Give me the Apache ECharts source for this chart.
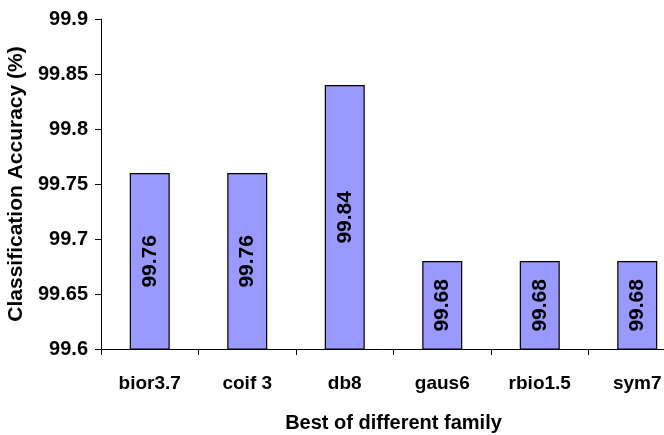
<!DOCTYPE html>
<html>
<head>
<meta charset="utf-8">
<script src="https://cdn.jsdelivr.net/npm/echarts@6/dist/echarts.min.js"></script>
<style>html,body{margin:0;padding:0;background:#fff;}#c{width:664px;height:435px;}</style>
</head>
<body>
<div id="c"></div>
<script>
const categories = ['bior3.7', 'coif 3', 'db8', 'gaus6', 'rbio1.5', 'sym7'];
const accuracy = [99.76, 99.76, 99.84, 99.68, 99.68, 99.68];
const yMin = 99.6, yMax = 99.9, yStep = 0.05;

const FONT = '"Liberation Sans", Arial, sans-serif';
const chart = echarts.init(document.getElementById('c'), null, {renderer: 'canvas'});
chart.setOption({
  backgroundColor: '#ffffff',
  animation: false,
  grid: {left: 101, top: 19, right: -22, height: 330, containLabel: false, outerBoundsMode: 'none'},
  xAxis: {
    type: 'category',
    data: categories,
    name: 'Best of different family',
    nameLocation: 'middle',
    nameGap: 64,
    nameTextStyle: {fontFamily: FONT, fontWeight: 'bold', fontSize: 20, color: '#000'},
    axisLine: {lineStyle: {color: '#000', width: 1}},
    axisTick: {show: true, alignWithLabel: false, length: 6, lineStyle: {color: '#000'}},
    axisLabel: {fontFamily: FONT, fontWeight: 'bold', fontSize: 19, color: '#000', margin: 25},
    splitLine: {show: false}
  },
  yAxis: {
    type: 'value',
    min: yMin, max: yMax, interval: yStep,
    name: 'Classification Accuracy (%)',
    nameLocation: 'middle',
    nameGap: 72,
    nameTextStyle: {fontFamily: FONT, fontWeight: 'bold', fontSize: 21, color: '#000'},
    axisLine: {show: true, lineStyle: {color: '#000', width: 1}},
    axisTick: {show: true, length: 6, lineStyle: {color: '#000'}},
    axisLabel: {fontFamily: FONT, fontWeight: 'bold', fontSize: 20, color: '#000', margin: 13,
      formatter: v => String(parseFloat(v.toFixed(2)))},
    splitLine: {show: false}
  },
  series: [{
    type: 'bar',
    data: accuracy,
    barWidth: 40,
    itemStyle: {color: '#9999ff', borderColor: '#000', borderWidth: 1.2},
    label: {
      show: true, position: 'inside', rotate: 90,
      fontFamily: FONT, fontWeight: 'bold', fontSize: 21, color: '#000',
      formatter: p => p.value.toFixed(2)
    }
  }]
});
</script>
</body>
</html>
